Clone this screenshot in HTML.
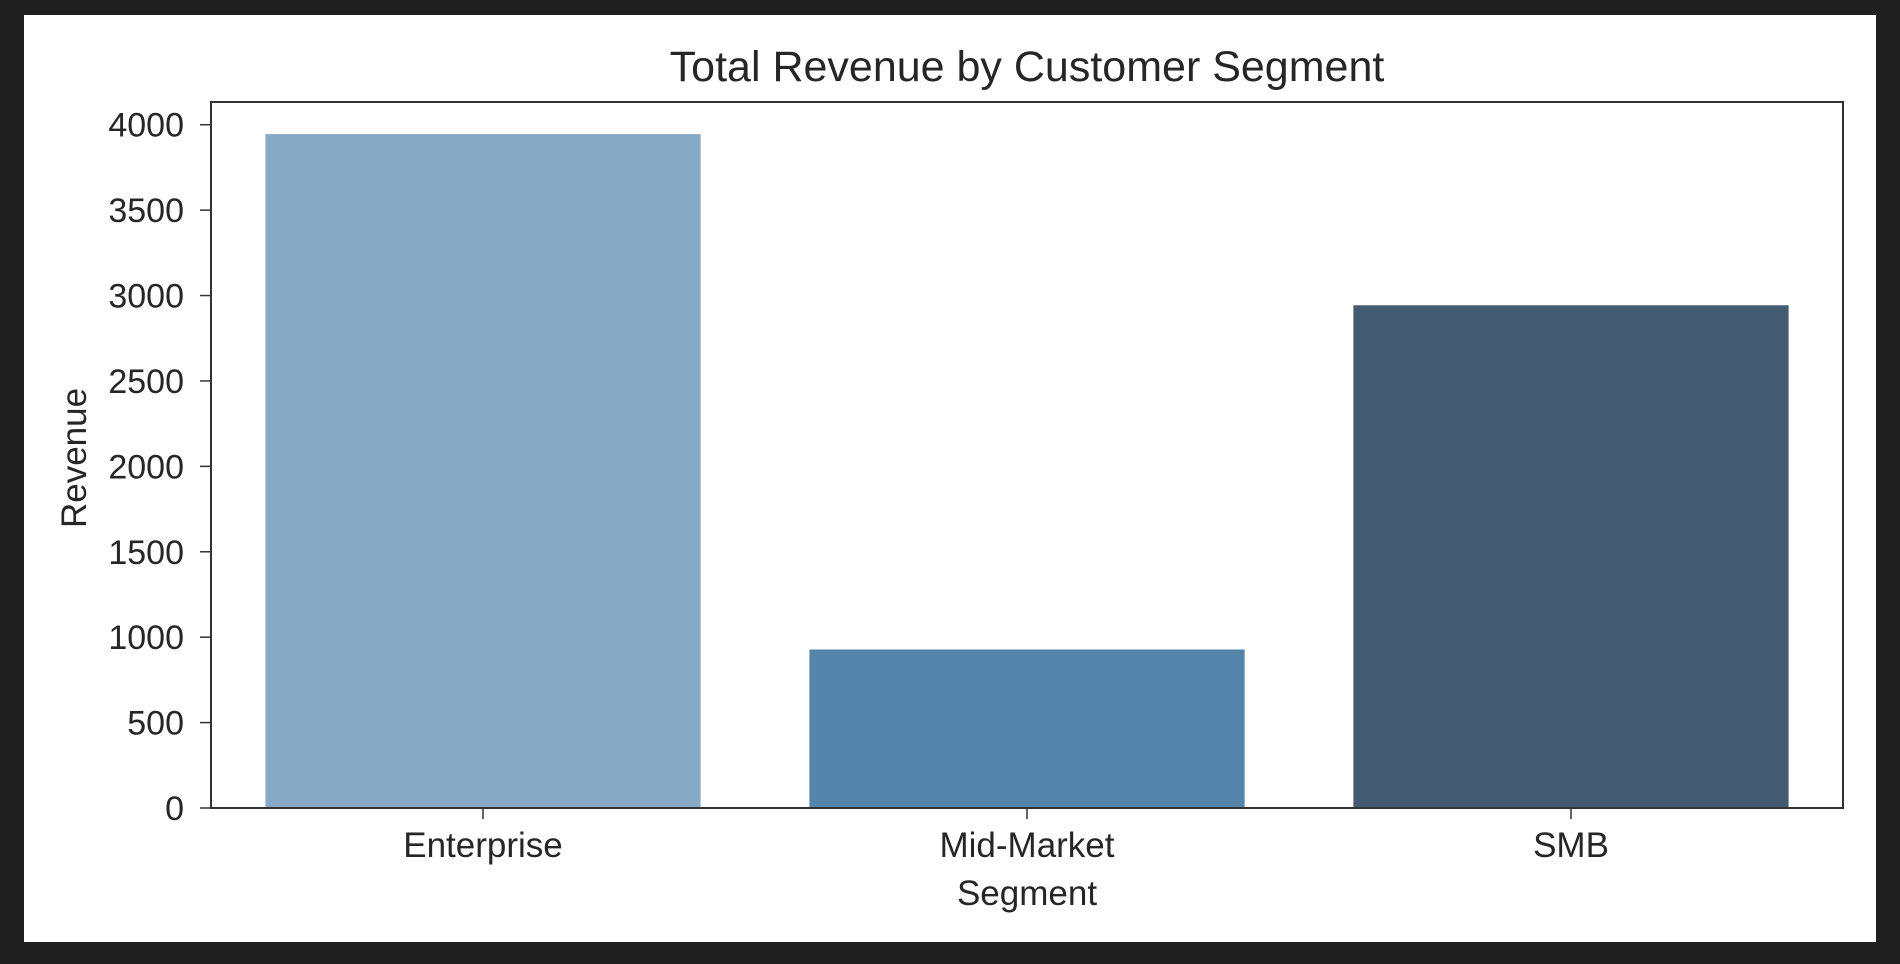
<!DOCTYPE html>
<html><head><meta charset="utf-8"><style>
html,body{margin:0;padding:0;background:#1f1f1f;width:1900px;height:964px;overflow:hidden}
svg{display:block;font-family:"Liberation Sans","DejaVu Sans",sans-serif}
</style></head><body>
<svg id="chart" width="1900" height="964">
<rect x="24" y="15" width="1852" height="927" fill="#ffffff"/>
<g id="bars"></g>
<g id="axes"></g>
</svg>
<script>
const categories = ["Enterprise","Mid-Market","SMB"];
const revenue = [3945, 928, 2943];
const yTicks = [0,500,1000,1500,2000,2500,3000,3500,4000];
const colors = ["#86a9c5","#5584ab","#435a70"];
const L=211,R=1843,T=102,B=808,YMAX=4133;
const ns="http://www.w3.org/2000/svg";
function y(v){return B-(v/YMAX)*(B-T);}
const band=(R-L)/categories.length;
function xc(i){return L+band*(i+0.5);}
function mk(tag,attrs,parent){const e=document.createElementNS(ns,tag);for(const k in attrs)e.setAttribute(k,attrs[k]);parent.appendChild(e);return e;}
const gb=document.getElementById('bars'),ga=document.getElementById('axes');
revenue.forEach((v,i)=>{
  const bw=band*0.8;
  const r=mk('rect',{x:xc(i)-bw/2,y:y(v),width:bw,height:B-y(v),fill:colors[i]},gb);
  
  
});
const frame=mk('rect',{x:L,y:T,width:R-L,height:B-T,fill:'none',stroke:'#333',"stroke-width":2},ga);


yTicks.forEach(t=>{
  mk('line',{x1:L-11,x2:L,y1:y(t),y2:y(t),stroke:'#333',"stroke-width":1.5},ga);
  const tx=mk('text',{x:L-27,y:y(t)+12,"text-anchor":"end","font-size":"34",fill:"#262626"},ga);
  tx.textContent=t;
  
  
});
categories.forEach((c,i)=>{
  mk('line',{x1:xc(i),x2:xc(i),y1:B,y2:B+11,stroke:'#333',"stroke-width":1.5},ga);
  const tx=mk('text',{x:xc(i),y:B+49,"text-anchor":"middle","font-size":"35",fill:"#262626"},ga);
  tx.textContent=c;
  
  
});
const title=mk('text',{x:(L+R)/2,y:81,"text-anchor":"middle","font-size":"43",fill:"#262626"},ga);
title.textContent="Total Revenue by Customer Segment";


const xt=mk('text',{x:(L+R)/2,y:905,"text-anchor":"middle","font-size":"35",fill:"#262626"},ga);
xt.textContent="Segment";


const yt=mk('text',{x:0,y:0,"text-anchor":"middle","font-size":"35",fill:"#262626",transform:"translate(86,458) rotate(-90)"},ga);
yt.textContent="Revenue";


</script>
</body></html>
